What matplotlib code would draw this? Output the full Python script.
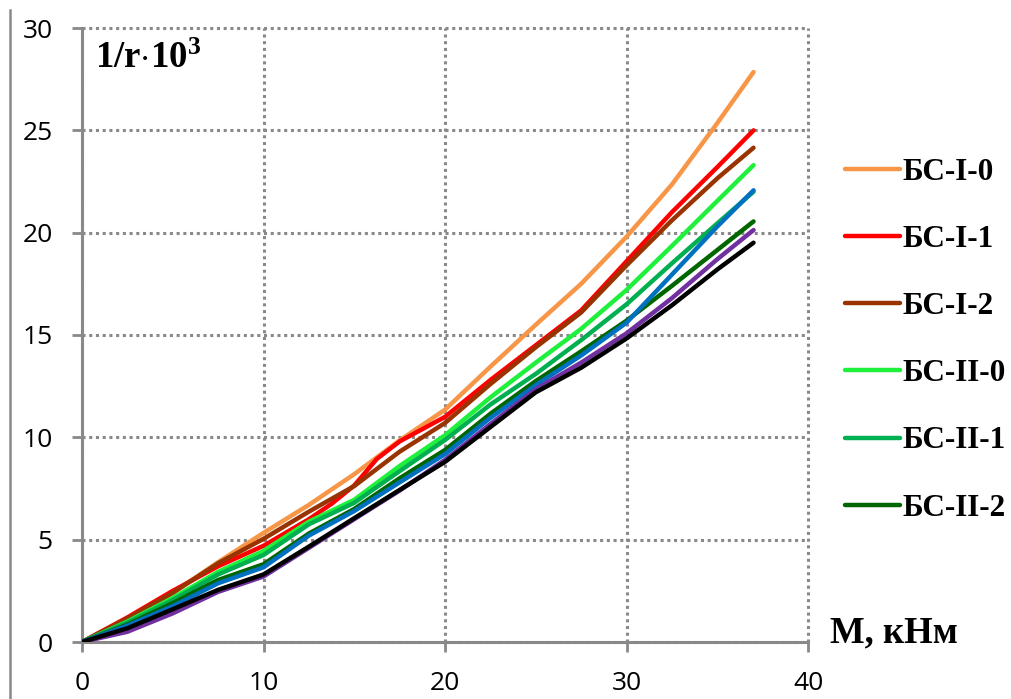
import matplotlib
matplotlib.use("Agg")
import matplotlib.pyplot as plt
from matplotlib.lines import Line2D

plt.rcParams["mathtext.fontset"] = "custom"
plt.rcParams["mathtext.rm"] = "Liberation Serif"
plt.rcParams["mathtext.bf"] = "Liberation Serif:bold"

# M, kNm
m_vals = [0, 2.5, 5, 7.5, 10, 12.5, 15, 17.5, 20, 22.5, 25, 27.5, 30, 32.5, 35, 37]
m_red = [0, 2.5, 5, 7.5, 10, 12.5, 13.75, 15, 16.25, 17.5, 20, 22.5, 25, 27.5, 30, 32.5, 35, 37]

bs_i_0 = [0, 1.15, 2.4, 3.9, 5.33, 6.7, 8.2, 9.85, 11.35, 13.45, 15.5, 17.5, 19.8, 22.35, 25.35, 27.85]
bs_i_1 = [0, 1.2, 2.5, 3.7, 4.7, 6.0, 6.75, 7.65, 8.95, 9.8, 11.0, 12.8, 14.5, 16.2, 18.6, 21.0, 23.2, 25.0]
bs_i_2 = [0, 1.15, 2.4, 3.85, 5.04, 6.37, 7.62, 9.3, 10.7, 12.6, 14.4, 16.1, 18.4, 20.6, 22.65, 24.15]
bs_ii_0 = [0, 1.0, 2.15, 3.43, 4.45, 5.88, 6.95, 8.6, 10.1, 11.95, 13.65, 15.3, 17.2, 19.35, 21.55, 23.3]
bs_ii_1 = [0, 0.95, 2.05, 3.3, 4.25, 5.75, 6.8, 8.35, 9.87, 11.6, 13.1, 14.75, 16.5, 18.5, 20.45, 22.0]
bs_ii_2 = [0, 0.85, 1.9, 3.03, 3.8, 5.3, 6.5, 8.0, 9.38, 11.15, 12.75, 14.2, 15.7, 17.4, 19.15, 20.55]
blue_s = [0, 0.8, 1.75, 2.87, 3.65, 5.2, 6.4, 7.8, 9.18, 10.95, 12.55, 14.0, 15.6, 17.95, 20.3, 22.07]
purple_s = [0, 0.5, 1.4, 2.45, 3.2, 4.6, 6.0, 7.4, 8.9, 10.65, 12.35, 13.65, 15.08, 16.8, 18.7, 20.13]
black_s = [0, 0.67, 1.6, 2.55, 3.3, 4.66, 6.05, 7.43, 8.8, 10.5, 12.2, 13.4, 14.83, 16.45, 18.2, 19.51]

x_ticks = [0, 10, 20, 30, 40]
y_ticks = [0, 5, 10, 15, 20, 25, 30]

grey = "#898989"

fig = plt.figure(figsize=(10.12, 6.99), dpi=100)
ax = fig.add_axes([82 / 1012, 1 - 642 / 699, 726 / 1012, 614 / 699])

series = [
    (m_vals, bs_i_0, "#f79646", "БС-I-0"),
    (m_red, bs_i_1, "#ff0000", "БС-I-1"),
    (m_vals, bs_i_2, "#993300", "БС-I-2"),
    (m_vals, bs_ii_0, "#1ef03c", "БС-II-0"),
    (m_vals, bs_ii_1, "#00b050", "БС-II-1"),
    (m_vals, bs_ii_2, "#006600", "БС-II-2"),
    (m_vals, blue_s, "#0070c0", None),
    (m_vals, purple_s, "#7030a0", None),
    (m_vals, black_s, "#000000", None),
]

handles = []
labels = []
for xs, ys, col, lab in series:
    ln, = ax.plot(xs, ys, color=col, lw=3.2, solid_capstyle="round",
                  solid_joinstyle="round", zorder=3)
    if lab:
        handles.append(ln)
        labels.append(lab)

ax.set_xlim(0, 40)
ax.set_ylim(0, 30)
ax.set_xticks(x_ticks)
ax.set_yticks(y_ticks)

ax.grid(True, color=grey, lw=2.2, linestyle=(0, (1, 1.2)))
for gl in ax.get_xgridlines() + ax.get_ygridlines():
    gl.set_clip_on(False)

for side in ["top", "right"]:
    ax.spines[side].set_visible(False)
for side in ["left", "bottom"]:
    ax.spines[side].set_color(grey)
    ax.spines[side].set_linewidth(2.2)
    ax.spines[side].set_zorder(2.5)

ax.tick_params(axis="both", direction="out", length=7, width=2, color=grey,
               labelsize=19, labelcolor="black")
ax.tick_params(axis="x", pad=14)
ax.tick_params(axis="y", pad=14)
for lbl in ax.get_xticklabels() + ax.get_yticklabels():
    lbl.set_fontfamily("Open Sans")

fig.text(95 / 1012, 1 - 68 / 699, r"$\mathbf{1/r{\cdot}10^{3}}$",
         fontsize=26.5, va="baseline", ha="left")
fig.text(830 / 1012, 1 - 642 / 699, "M, кНм", fontfamily="Liberation Serif",
         fontweight="bold", fontsize=26.5, va="baseline", ha="left")

fig.legend(handles, labels, loc="upper left",
           bbox_to_anchor=(845 / 1012, 1 - 158 / 699),
           frameon=False, borderpad=0, borderaxespad=0,
           handlelength=1.75, handletextpad=0.08, labelspacing=1.22,
           prop={"family": "Liberation Serif", "weight": "bold", "size": 22.5})

# chart area left border
fig.add_artist(Line2D([10 / 1012, 10 / 1012], [0, 1 - 10 / 699],
                      transform=fig.transFigure, color=grey, lw=1.8))

fig.savefig("out.png", dpi=100)
